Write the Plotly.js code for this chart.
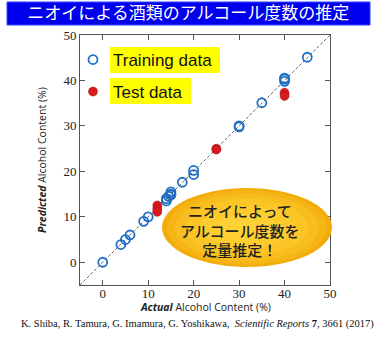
<!DOCTYPE html>
<html>
<head>
<meta charset="utf-8">
<script src="https://cdn.plot.ly/plotly-3.0.1.min.js"></script>
<style>html,body{margin:0;padding:0;background:#fff;}#chart{width:392px;height:344px;}</style>
</head>
<body>
<div id="chart"></div>
<script>
// Training data (actual vs predicted alcohol content, %)
const trainActual    = [0, 4, 5, 6, 9, 10, 14, 14, 14.5, 15, 15, 15, 17.5, 20, 20, 30, 30, 35, 40, 40, 40, 45];
const trainPredicted = [0, 3.9, 5, 6, 9, 10, 13.5, 14, 14.5, 15, 15.5, 14.8, 17.6, 20.2, 19.3, 30, 29.8, 35.1, 40.3, 39.8, 40.5, 45.1];
// Test data
const testActual    = [12, 12, 12, 25, 25, 40, 40];
const testPredicted = [12.5, 11.7, 11.1, 25, 24.8, 37.3, 36.6];
// Identity line
const idealLine = [-5, 50];
const tickVals = [0, 10, 20, 30, 40, 50];
const titleText = 'ニオイによる酒類のアルコール度数の推定';
const calloutText = 'ニオイによって<br>アルコール度数を<br>定量推定！';
const citeText = 'K. Shiba, R. Tamura, G. Imamura, G. Yoshikawa,  <i>Scientific Reports</i> <b>7</b>, 3661 (2017)';
const xTitleText = '<b><i>Actual</i></b> Alcohol Content (%)';
const yTitleText = '<b><i>Predicted</i></b> Alcohol Content (%)';

const blue = '#1f6fc4', red = '#d91a1a';

const traces = [
  {x: idealLine, y: idealLine, mode: 'lines', line: {color: '#666', width: 1, dash: '3px,2px'}, showlegend: false, hoverinfo: 'skip'},
  {x: trainActual, y: trainPredicted, mode: 'markers', name: 'Training data', legend: 'legend',
   marker: {symbol: 'circle-open', size: 9, color: blue, line: {width: 1.8, color: blue}}},
  {x: testActual, y: testPredicted, mode: 'markers', name: 'Test data', legend: 'legend2',
   marker: {symbol: 'circle', size: 9, color: red, line: {width: 0.5, color: '#a01010'}}}
];

// gradient ellipse layers
const ell = {x0: 0.328, x1: 1.008, y0: 0.072, y1: 0.388};
const cx = (ell.x0 + ell.x1) / 2, cy = (ell.y0 + ell.y1) / 2;
const rx = (ell.x1 - ell.x0) / 2, ry = (ell.y1 - ell.y0) / 2;
const layers = [[1.0, '#f2ac0a'], [0.94, '#f5b514'], [0.85, '#f8bd1e'], [0.72, '#fbc526'], [0.55, '#fdcb2e'], [0.35, '#ffd034']];
const shapes = [
  {type: 'rect', xref: 'paper', yref: 'paper', x0: -0.292, x1: 1.16, y0: 1.04, y1: 1.132, fillcolor: '#0000ee', line: {color: '#3344ff', width: 1}, layer: 'above'},
  {type: 'rect', xref: 'paper', yref: 'paper', x0: 0.12, x1: 0.56, y0: 0.848, y1: 0.952, fillcolor: '#ffff00', line: {width: 0}, layer: 'above'},
  {type: 'rect', xref: 'paper', yref: 'paper', x0: 0.12, x1: 0.444, y0: 0.724, y1: 0.828, fillcolor: '#ffff00', line: {width: 0}, layer: 'above'}
];
layers.forEach(([s, c]) => shapes.push({type: 'circle', xref: 'paper', yref: 'paper',
  x0: cx - rx * s, x1: cx + rx * s, y0: cy - ry * s, y1: cy + ry * s, fillcolor: c, line: {width: 0}, layer: 'above'}));

const axisCommon = {
  range: [-5, 50], tickvals: tickVals, ticks: 'inside', ticklen: 5, tickcolor: '#555',
  showline: true, linecolor: '#555', linewidth: 1, mirror: 'ticks', showgrid: false, zeroline: false,
  tickfont: {family: 'Liberation Serif', size: 13, color: '#222'}, automargin: false
};

const layout = {
  width: 392, height: 344,
  margin: {l: 80, r: 62, t: 35, b: 59},
  paper_bgcolor: '#fff', plot_bgcolor: '#fff',
  title: {text: titleText, font: {family: 'Noto Sans CJK JP', size: 17, color: '#fff'}, x: 0.48, xanchor: 'center', y: 0.961, yanchor: 'middle', xref: 'container', yref: 'container'},
  xaxis: Object.assign({}, axisCommon, {ticklabelstandoff: -4}),
  yaxis: Object.assign({}, axisCommon),
  legend: {x: -0.028, xanchor: 'left', y: 0.9, yanchor: 'middle', bgcolor: 'rgba(0,0,0,0)', font: {family: 'Liberation Sans', size: 17, color: '#111'}},
  legend2: {x: -0.028, xanchor: 'left', y: 0.772, yanchor: 'middle', bgcolor: 'rgba(0,0,0,0)', font: {family: 'Liberation Sans', size: 17, color: '#111'}},
  shapes: shapes,
  annotations: [
    {text: calloutText, xref: 'paper', yref: 'paper', x: 0.64, y: 0.22, xanchor: 'center', yanchor: 'middle', showarrow: false, align: 'center',
     font: {family: 'Noto Sans CJK JP', size: 15, weight: 500, color: '#222'}},
    {text: xTitleText, xref: 'paper', yref: 'paper', x: 0.5, y: -0.088, xanchor: 'center', yanchor: 'middle', showarrow: false,
     font: {family: 'Open Sans', size: 10.5, color: '#222'}},
    {text: yTitleText, xref: 'paper', yref: 'paper', x: -0.152, y: 0.5, xanchor: 'center', yanchor: 'middle', textangle: -90, showarrow: false,
     font: {family: 'Open Sans', size: 10.5, color: '#222'}},
    {text: citeText, xref: 'paper', yref: 'paper', x: 0.468, y: -0.154, xanchor: 'center', yanchor: 'middle', showarrow: false,
     font: {family: 'Liberation Serif', size: 10.5, color: '#111'}}
  ]
};

Plotly.newPlot('chart', traces, layout, {displayModeBar: false, staticPlot: true});
</script>
</body>
</html>
